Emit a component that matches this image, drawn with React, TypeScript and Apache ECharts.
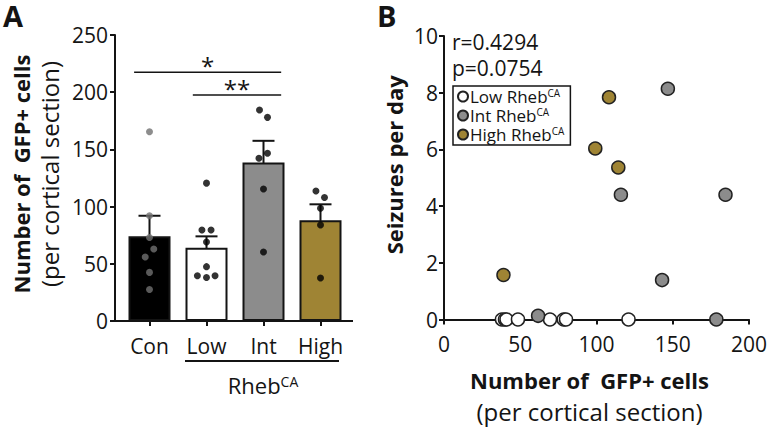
import React, { useEffect, useRef } from "react";
import * as echarts from "echarts";

const FONT = "'Open Sans', 'Noto Sans', sans-serif";
const INK = "#141414";

// Panel A
const groups = ["Con", "Low", "Int", "High"];
const barMeans = [74, 64, 138.5, 88];
const barSem = [18, 10, 19, 14];
const barColors = ["#000000", "#ffffff", "#8c8c8c", "#9f8434"];
const dotColors = ["#707070", "#000000", "#000000", "#000000"];

const conCells = [165.5, 92, 73, 63, 56, 42.5, 27.5];
const conJitter = [0, 0, 0, 0.075, -0.075, 0, 0];
const lowCells = [120.5, 79.5, 79.5, 69, 47.5, 39.5, 38, 39.5];
const lowJitter = [0, -0.08, 0.08, 0, 0, -0.16, 0, 0.15];
const intCells = [184.4, 178, 146.6, 142.2, 115.4, 60.3];
const intJitter = [-0.07, 0.07, 0.07, -0.08, 0, 0];
const highCells = [113.6, 108, 98.5, 83.9, 37.6];
const highJitter = [-0.08, 0.07, 0, 0, 0];

const yTicksA = { min: 0, max: 250, interval: 50 };
// significance bars: [start, end, y, label]
const sigBars: [number, number, number, string][] = [
  [-0.27, 2.31, 217.4, "*"],
  [0.76, 2.31, 197.5, "**"],
];

// Panel B
const seriesNamesB = ["Low Rheb", "Int Rheb", "High Rheb"];
const lowB = [[38, 0], [40, 0], [41, 0], [48.5, 0], [69.5, 0], [78.5, 0], [80, 0], [121, 0]];
const intB = [[61.7, 0.13], [116, 4.4], [143, 1.39], [146.8, 8.14], [178.6, 0], [184.6, 4.4]];
const highB = [[39, 1.57], [99.2, 6.03], [108.2, 7.84], [114.3, 5.36]];
const colorsB = ["#ffffff", "#8c8c8c", "#9f8434"];
const statR = "r=0.4294";
const statP = "p=0.0754";

export default function App() {
  const ref = useRef<HTMLDivElement>(null);
  useEffect(() => {
    if (!ref.current) return;
    const chart = echarts.init(ref.current, undefined, { renderer: "svg" });

    const cellGroups = [conCells, lowCells, intCells, highCells];
    const jitters = [conJitter, lowJitter, intJitter, highJitter];
    const dots: any[] = [];
    cellGroups.forEach((vals, gi) => {
      vals.forEach((v, k) => {
        dots.push({ value: [gi + jitters[gi][k], v], itemStyle: { color: dotColors[gi] } });
      });
    });

    const axisLine = { show: true, onZero: false, lineStyle: { color: INK, width: 2 } };
    const axisTick = { show: true, length: 5, lineStyle: { color: INK, width: 2 } };
    const labelStyle = { fontSize: 21, color: INK, fontFamily: FONT };

    const richA = {
      b: { fontSize: 22, fontWeight: "bold", color: INK, fontFamily: FONT, lineHeight: 29 },
      n: { fontSize: 24, color: INK, fontFamily: FONT, lineHeight: 29 },
    };
    const richB = {
      b: { fontSize: 22, fontWeight: "bold", color: INK, fontFamily: FONT, lineHeight: 31 },
      n: { fontSize: 24, color: INK, fontFamily: FONT, lineHeight: 31 },
    };

    const option: any = {
      animation: false,
      textStyle: { fontFamily: FONT },
      grid: [
        { left: 121, top: 35, width: 228, height: 286 },
        { left: 444, top: 36, width: 308, height: 285 },
      ],
      legend: {
        data: seriesNamesB,
        left: 453,
        top: 86,
        orient: "vertical",
        itemWidth: 10,
        itemHeight: 10,
        itemGap: 2,
        padding: [2, 6, 2, 4],
        borderColor: INK,
        borderWidth: 1.5,
        icon: "circle",
        selectedMode: false,
        textStyle: {
          fontSize: 17,
          lineHeight: 17,
          color: INK,
          fontFamily: FONT,
          padding: [0, 0, 0, -3],
          rich: { sup: { fontSize: 10, lineHeight: 17, color: INK, fontFamily: FONT, verticalAlign: "top" } },
        },
        formatter: (name: string) => `${name}{sup|CA}`,
      },
      xAxis: [
        {
          type: "category",
          gridIndex: 0,
          data: groups,
          axisLine,
          axisTick: { ...axisTick, alignWithLabel: true, interval: 0 },
          axisLabel: { ...labelStyle, margin: 14, interval: 0 },
        },
        { type: "value", gridIndex: 0, min: -0.5, max: 3.5, show: false, axisLine: { onZero: false } },
        {
          type: "value",
          gridIndex: 1,
          min: 0,
          max: 200,
          interval: 50,
          axisLine,
          axisTick,
          splitLine: { show: false },
          axisLabel: { ...labelStyle, margin: 14 },
          name: "{b|Number of  GFP+ cells}\n{n|(per cortical section)}",
          nameLocation: "middle",
          nameGap: 45,
          nameTextStyle: { rich: richB, padding: [0, 14, 0, 0] },
        },
      ],
      yAxis: [
        {
          type: "value",
          gridIndex: 0,
          ...yTicksA,
          offset: 6,
          axisLine,
          axisTick,
          splitLine: { show: false },
          axisLabel: { ...labelStyle, margin: 7 },
          name: "{b|Number of  GFP+ cells}\n{n|(per cortical section)}",
          nameLocation: "middle",
          nameRotate: 90,
          nameGap: 51,
          nameTextStyle: { rich: richA, padding: [0, 0, 0, 8] },
        },
        {
          type: "value",
          gridIndex: 1,
          min: 0,
          max: 10,
          interval: 2,
          axisLine,
          axisTick,
          splitLine: { show: false },
          axisLabel: { ...labelStyle, margin: 6 },
          name: "Seizures per day",
          nameLocation: "middle",
          nameRotate: 90,
          nameGap: 39,
          nameTextStyle: { fontSize: 22, fontWeight: "bold", color: INK, fontFamily: FONT, padding: [0, 0, 0, 26] },
        },
      ],
      series: [
        {
          type: "bar",
          xAxisIndex: 0,
          yAxisIndex: 0,
          barWidth: 42,
          data: barMeans.map((v, i) => ({ value: v, itemStyle: { color: barColors[i] } })),
          itemStyle: { borderColor: INK, borderWidth: 2 },
          silent: true,
        },
        {
          type: "scatter",
          xAxisIndex: 1,
          yAxisIndex: 0,
          symbolSize: 7,
          data: dots,
          silent: true,
          clip: false,
        },
        {
          type: "custom",
          xAxisIndex: 1,
          yAxisIndex: 0,
          silent: true,
          clip: false,
          data: groups.map((g, i) => [i, barMeans[i], barSem[i]]),
          renderItem: (params: any, api: any) => {
            const x = api.value(0);
            const m = api.value(1);
            const s = api.value(2);
            const top = api.coord([x, m + s]);
            const bot = api.coord([x, m - s]);
            const hw = 11;
            const st = { stroke: INK, lineWidth: 2 };
            return {
              type: "group",
              children: [
                { type: "line", shape: { x1: top[0], y1: top[1], x2: bot[0], y2: bot[1] }, style: st },
                { type: "line", shape: { x1: top[0] - hw, y1: top[1], x2: top[0] + hw, y2: top[1] }, style: st },
                { type: "line", shape: { x1: bot[0] - hw, y1: bot[1], x2: bot[0] + hw, y2: bot[1] }, style: st },
              ],
            };
          },
        },
        {
          type: "custom",
          xAxisIndex: 1,
          yAxisIndex: 0,
          silent: true,
          clip: false,
          data: sigBars.map(([s, e, y]) => [s, e, y]),
          renderItem: (params: any, api: any) => {
            const s = api.value(0);
            const e = api.value(1);
            const y = api.value(2);
            const p1 = api.coord([s, y]);
            const p2 = api.coord([e, y]);
            const lab = sigBars[params.dataIndex][3];
            return {
              type: "group",
              children: [
                { type: "line", shape: { x1: p1[0], y1: p1[1], x2: p2[0], y2: p2[1] }, style: { stroke: INK, lineWidth: 1.5 } },
                {
                  type: "text",
                  x: (p1[0] + p2[0]) / 2,
                  y: p1[1] + 5,
                  style: { text: lab, fontSize: 24, fill: INK, fontFamily: FONT, align: "center", verticalAlign: "bottom" },
                },
              ],
            };
          },
        },
        ...[lowB, intB, highB].map((d, i) => ({
          type: "scatter",
          name: seriesNamesB[i],
          xAxisIndex: 2,
          yAxisIndex: 1,
          symbol: "circle",
          symbolSize: 13,
          clip: false,
          silent: true,
          data: d,
          itemStyle: { color: colorsB[i], borderColor: "#222", borderWidth: 1.5, opacity: 1 },
        })),
      ],
      graphic: [
        { type: "text", left: 3, top: 1, style: { text: "A", fontSize: 29, fontWeight: "bold", fill: INK, fontFamily: FONT } },
        { type: "text", left: 377, top: 1, style: { text: "B", fontSize: 29, fontWeight: "bold", fill: INK, fontFamily: FONT } },
        // x-axis line extension (panel A)
        { type: "line", shape: { x1: 114, y1: 321, x2: 353, y2: 321 }, style: { stroke: INK, lineWidth: 2 }, z: -1 },
        { type: "line", shape: { x1: 185, y1: 361, x2: 339, y2: 361 }, style: { stroke: INK, lineWidth: 2 } },
        {
          type: "text",
          x: 263,
          y: 385,
          style: {
            text: "Rheb{sup|CA}",
            fontSize: 22,
            fill: INK,
            fontFamily: FONT,
            align: "center",
            verticalAlign: "middle",
            rich: { sup: { fontSize: 14, fill: INK, fontFamily: FONT, verticalAlign: "top" } },
          },
        },
        { type: "text", x: 452, y: 42, style: { text: statR, fontSize: 21, fill: INK, fontFamily: FONT, verticalAlign: "middle" } },
        { type: "text", x: 452, y: 68, style: { text: statP, fontSize: 21, fill: INK, fontFamily: FONT, verticalAlign: "middle" } },
      ],
    };
    chart.setOption(option);
    return () => chart.dispose();
  }, []);
  return <div ref={ref} style={{ width: 770, height: 428, position: "absolute", left: 0, top: 0, background: "#fff" }} />;
}
